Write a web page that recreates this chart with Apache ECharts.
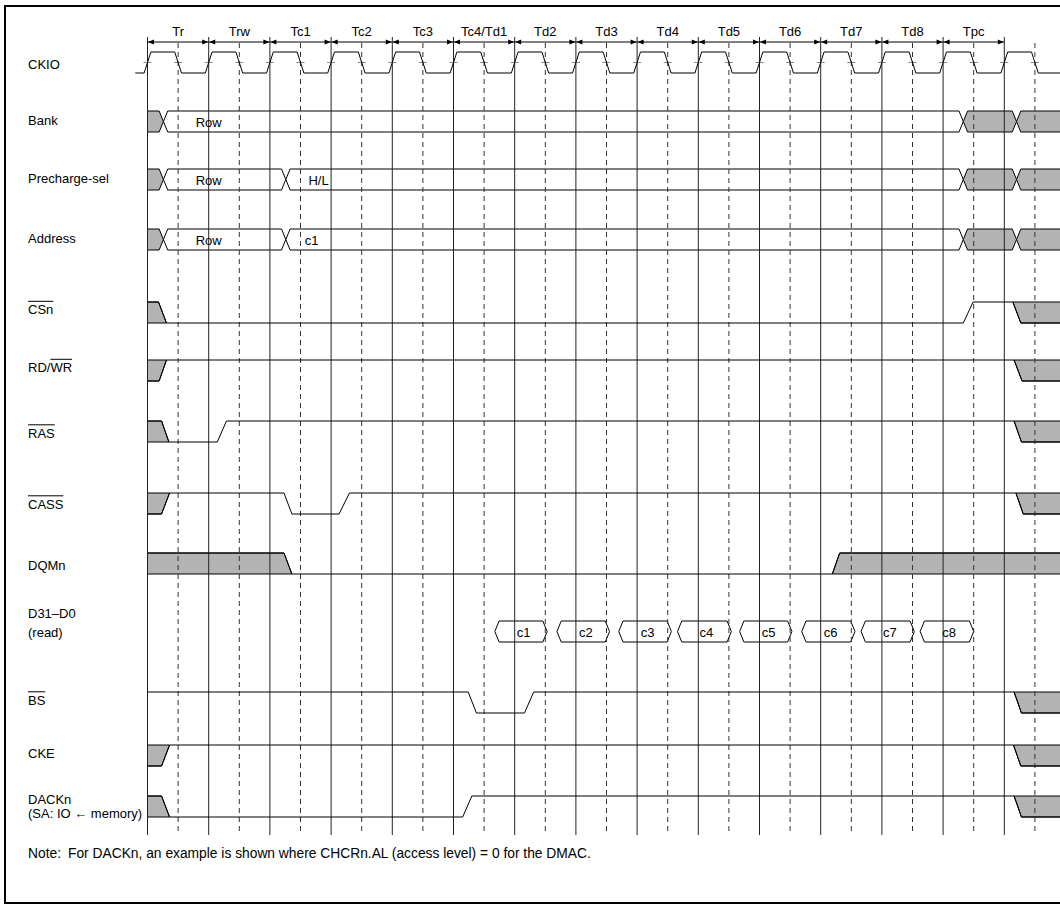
<!DOCTYPE html>
<html><head><meta charset="utf-8">
<script src="https://cdn.jsdelivr.net/npm/echarts@6/dist/echarts.min.js"></script>
<style>html,body{margin:0;padding:0;background:#fff}#c{width:1060px;height:908px}</style>
</head><body><div id="c"></div>
<script>
// ---------------- data (time in clock cycles, 0 = start of Tr) ----------------
const CYCLE_LABELS = ['Tr','Trw','Tc1','Tc2','Tc3','Tc4/Td1','Td2','Td3','Td4','Td5','Td6','Td7','Td8','Tpc'];
const CYCLE_BOUNDS = [0,1,2,3,4,5,6,7,8,9,10,11,12,13,14];
const HALF_MARKS = [0.5,1.5,2.5,3.5,4.5,5.5,6.5,7.5,8.5,9.5,10.5,11.5,12.5,13.5,14.5];
const CLK_START = -0.2;
const CLK_RISE = [0,1,2,3,4,5,6,7,8,9,10,11,12,13,14];
const CLK_FALL = [0.5,1.5,2.5,3.5,4.5,5.5,6.5,7.5,8.5,9.5,10.5,11.5,12.5,13.5,14.5];

const BANK_EDGES = [0.26, 13.33, 14.2];
const BANK_STATES = ['X','Row','X','X'];
const PRE_EDGES = [0.26, 2.26, 13.33, 14.2];
const PRE_STATES = ['X','Row','H/L','X','X'];
const ADDR_EDGES = [0.26, 2.26, 13.33, 14.2];
const ADDR_STATES = ['X','Row','c1','X','X'];

// [edge start, edge end, from level, to level]
const CSN_EDGES  = [[0.18,0.31,1,0],[13.33,13.49,0,1],[14.14,14.27,1,0]];
const RDWR_EDGES = [[0.19,0.31,0,1],[14.16,14.29,1,0]];
const RAS_EDGES  = [[0.23,0.35,1,0],[1.14,1.29,0,1],[14.16,14.28,1,0]];
const CASS_EDGES = [[0.23,0.36,0,1],[2.23,2.36,1,0],[3.13,3.30,0,1],[14.19,14.31,1,0]];
const DQM_EDGES  = [[2.23,2.36,1,0],[11.19,11.31,0,1]];
const BS_EDGES   = [[5.24,5.375,1,0],[6.16,6.31,0,1],[14.16,14.28,1,0]];
const CKE_EDGES  = [[0.23,0.36,0,1],[14.15,14.27,1,0]];
const DACK_EDGES = [[0.23,0.36,1,0],[5.15,5.30,0,1],[14.16,14.28,1,0]];

const DATA_LABELS = ['c1','c2','c3','c4','c5','c6','c7','c8'];
const DATA_START = [5.675,6.69,7.7,8.66,9.675,10.69,11.66,12.625];
const DATA_END   = [6.53,7.55,8.56,9.54,10.53,11.56,12.53,13.5];

const SIGNAL_NAMES = ['CKIO','Bank','Precharge-sel','Address','CSn','RD/WR','RAS','CASS','DQMn','D31–D0','(read)','BS','CKE','DACKn','(SA: IO ← memory)'];
const NOTE_HEAD = 'Note:';
const NOTE_TEXT = 'For DACKn, an example is shown where CHCRn.AL (access level) = 0 for the DMAC.';

// ---------------- layout ----------------
const W = 1060, H = 908, X0 = 147.5, PX = 61.2;
const T_MIN = -X0 / PX, T_MAX = (W - X0) / PX, T_END = 15;
const LV = 21;
const ROW_TOP = {CKIO:52, BANK:111, PRE:169, ADDR:229, CSN:302, RDWR:360, RAS:421, CASS:493, DQM:553, DATA:621, BS:692, CKE:745, DACK:796};
const CLK_HALF = 0.055, BUS_HALF = 0.07;
const FONT = '13px "Liberation Sans", Arial, sans-serif';
const NOTE_FONT = '13.8px "Liberation Sans", Arial, sans-serif';
const GREY = '#b3b3b3';
const LABEL_Y = [63.5,120,178,238,309,367,432.5,503.5,564.5,612.5,632,699.5,753,798.5,813];
const OVERLINE = {'CSn':[0,3],'RD/WR':[3,5],'RAS':[0,3],'CASS':[0,4],'BS':[0,2]};
const BUS_TEXT_LAYOUT = {'Row':[1.0,'center'],'H/L':[2.63,'left'],'c1':[2.57,'left']};

const WAVES = [['CSN',CSN_EDGES,true,true],['RDWR',RDWR_EDGES,true,true],['RAS',RAS_EDGES,true,true],
  ['CASS',CASS_EDGES,true,true],['DQM',DQM_EDGES,true,true],['BS',BS_EDGES,false,true],
  ['CKE',CKE_EDGES,true,true],['DACK',DACK_EDGES,true,true]];
const BUSES = [['BANK',BANK_EDGES,BANK_STATES],['PRE',PRE_EDGES,PRE_STATES],['ADDR',ADDR_EDGES,ADDR_STATES]];

// ---------------- build shapes ----------------
const shapes = [];
const yOf = (row, l) => ROW_TOP[row] + (l ? 0 : LV);
const mid = row => ROW_TOP[row] + LV / 2;

WAVES.forEach(([row, e, gb, ga]) => {
  if (gb) { const [a,b,f,t] = e[0]; shapes.push({kind:'polygon', z:1, fill:GREY, pts:[[0,yOf(row,f)],[a,yOf(row,f)],[b,yOf(row,t)],[0,yOf(row,t)]]}); }
  if (ga) { const [a,b,f,t] = e[e.length-1]; shapes.push({kind:'polygon', z:1, fill:GREY, pts:[[a,yOf(row,f)],[T_END,yOf(row,f)],[T_END,yOf(row,t)],[b,yOf(row,t)]]}); }
});
BUSES.forEach(([row, edges, states]) => {
  const b = [0, ...edges, T_END];
  const top = ROW_TOP[row], bot = top + LV, m = mid(row);
  states.forEach((st, i) => {
    const s = b[i], e = b[i+1];
    let pts;
    if (i === 0) pts = [[s,top],[e-BUS_HALF,top],[e,m],[e-BUS_HALF,bot],[s,bot]];
    else if (i === states.length-1) pts = [[s,m],[s+BUS_HALF,top],[e,top],[e,bot],[s+BUS_HALF,bot]];
    else pts = [[s,m],[s+BUS_HALF,top],[e-BUS_HALF,top],[e,m],[e-BUS_HALF,bot],[s+BUS_HALF,bot]];
    shapes.push({kind:'polygon', z:1, fill: st === 'X' ? GREY : 'none', pts});
    if (st !== 'X') { const L = BUS_TEXT_LAYOUT[st]; shapes.push({kind:'text', z:5, t:L[0], y:m, text:st, align:L[1]}); }
  });
});
DATA_START.forEach((s, i) => {
  const e = DATA_END[i], top = ROW_TOP.DATA, bot = top + LV, m = mid('DATA');
  shapes.push({kind:'polygon', z:1, fill:'none', pts:[[s,m],[s+BUS_HALF,top],[e-BUS_HALF,top],[e,m],[e-BUS_HALF,bot],[s+BUS_HALF,bot]]});
  shapes.push({kind:'text', z:5, t:s+0.36, y:m, text:DATA_LABELS[i], align:'left'});
});
CYCLE_BOUNDS.forEach(t => shapes.push({kind:'vline', z:2, t, y0:37, y1:835, dash:null}));
HALF_MARKS.forEach(t => shapes.push({kind:'vline', z:2, t, y0:43, y1:835, dash:[5,4]}));
CYCLE_LABELS.forEach((lab, i) => {
  shapes.push({kind:'arrow', z:3, t0:CYCLE_BOUNDS[i], t1:CYCLE_BOUNDS[i+1], y:42});
  shapes.push({kind:'text', z:5, t:(CYCLE_BOUNDS[i]+CYCLE_BOUNDS[i+1])/2, y:31, text:lab, align:'center'});
});
(function(){
  const hi = yOf('CKIO',1), lo = yOf('CKIO',0), m = mid('CKIO');
  const pts = [[CLK_START, lo]];
  CLK_RISE.forEach((r, i) => {
    pts.push([r-CLK_HALF, lo],[r+CLK_HALF, hi]);
    const f = CLK_FALL[i];
    pts.push([f-CLK_HALF, hi],[f+CLK_HALF, lo]);
    shapes.push({kind:'tick', z:3, t:r, y:m});
    shapes.push({kind:'tick', z:3, t:f, y:m});
  });
  pts.push([T_END, lo]);
  shapes.push({kind:'polyline', z:4, pts});
})();
WAVES.forEach(([row, e]) => {
  const pts = [[0, yOf(row, e[0][2])]];
  e.forEach(([a,b,f,t]) => pts.push([a,yOf(row,f)],[b,yOf(row,t)]));
  pts.push([T_END, yOf(row, e[e.length-1][3])]);
  shapes.push({kind:'polyline', z:4, pts});
});

function anchor(s){
  if (s.pts) return s.pts[0];
  if (s.kind === 'arrow') return [s.t0, s.y];
  if (s.kind === 'vline') return [s.t, s.y0];
  return [s.t, s.y];
}

function renderItem(params, api){
  const s = shapes[params.dataIndex];
  const P = p => api.coord(p);
  switch (s.kind) {
    case 'polygon':
      return {type:'polygon', z2:s.z, shape:{points:s.pts.map(P)}, style:{fill:s.fill, stroke:'#000', lineWidth:1}};
    case 'polyline':
      return {type:'polyline', z2:s.z, shape:{points:s.pts.map(P)}, style:{fill:'none', stroke:'#000', lineWidth:1}};
    case 'vline': {
      const a = P([s.t, s.y0]), b = P([s.t, s.y1]);
      return {type:'line', z2:s.z, shape:{x1:a[0],y1:a[1],x2:b[0],y2:b[1]}, style:{stroke: s.dash ? '#333' : '#222', lineWidth:1, lineDash:s.dash || null}};
    }
    case 'tick': {
      const c = P([s.t, s.y]);
      return {type:'line', z2:s.z, shape:{x1:c[0]-4,y1:c[1],x2:c[0]+4,y2:c[1]}, style:{stroke:'#888', lineWidth:1}};
    }
    case 'arrow': {
      const a = P([s.t0, s.y]), b = P([s.t1, s.y]);
      return {type:'group', z2:s.z, children:[
        {type:'line', shape:{x1:a[0],y1:a[1],x2:b[0],y2:b[1]}, style:{stroke:'#000', lineWidth:1}},
        {type:'polygon', shape:{points:[[a[0]+0.5,a[1]],[a[0]+6.5,a[1]-2.5],[a[0]+6.5,a[1]+2.5]]}, style:{fill:'#000'}},
        {type:'polygon', shape:{points:[[b[0]-0.5,b[1]],[b[0]-6.5,b[1]-2.5],[b[0]-6.5,b[1]+2.5]]}, style:{fill:'#000'}}
      ]};
    }
    case 'text': {
      const c = P([s.t, s.y]);
      return {type:'text', z2:s.z, x:c[0], y:c[1]+0.7, style:{text:s.text, fill:'#000', font:FONT, align:s.align, verticalAlign:'middle'}};
    }
  }
}

const mctx = document.createElement('canvas').getContext('2d');
mctx.font = FONT;
const graphics = [];
SIGNAL_NAMES.forEach((name, i) => {
  const y = LABEL_Y[i] + 0.7;
  graphics.push({type:'text', x:28, y, style:{text:name, fill:'#000', font:FONT, verticalAlign:'middle'}});
  const ov = OVERLINE[name];
  if (ov) {
    const x1 = 28 + mctx.measureText(name.slice(0, ov[0])).width;
    const x2 = 28 + mctx.measureText(name.slice(0, ov[1])).width;
    graphics.push({type:'line', shape:{x1, y1:y-8.4, x2, y2:y-8.4}, style:{stroke:'#000', lineWidth:1}});
  }
});
graphics.push({type:'text', x:28, y:853.7, style:{text:NOTE_HEAD, fill:'#000', font:NOTE_FONT, verticalAlign:'middle'}});
graphics.push({type:'text', x:68, y:853.7, style:{text:NOTE_TEXT, fill:'#000', font:NOTE_FONT, verticalAlign:'middle'}});
graphics.push({type:'line', shape:{x1:4, y1:6, x2:W, y2:6}, style:{stroke:'#000', lineWidth:2}});
graphics.push({type:'line', shape:{x1:5, y1:5, x2:5, y2:904}, style:{stroke:'#000', lineWidth:2}});
graphics.push({type:'line', shape:{x1:4, y1:903, x2:W, y2:903}, style:{stroke:'#000', lineWidth:2}});

const chart = echarts.init(document.getElementById('c'), null, {renderer:'svg', width:W, height:H});
chart.setOption({
  animation:false,
  backgroundColor:'#fff',
  grid:{left:0, right:0, top:0, bottom:0},
  xAxis:{type:'value', min:T_MIN, max:T_MAX, show:false},
  yAxis:{type:'value', min:0, max:H, inverse:true, show:false},
  graphic:graphics,
  series:[{
    type:'custom', coordinateSystem:'cartesian2d', silent:true,
    renderItem, data: shapes.map(anchor)
  }]
});
</script></body></html>
